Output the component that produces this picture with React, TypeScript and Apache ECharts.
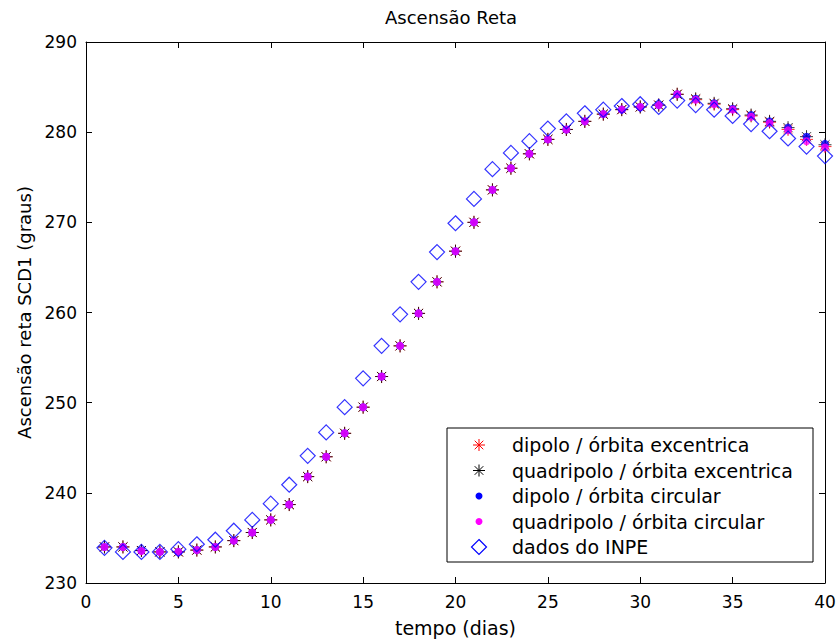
import React, { useEffect, useRef } from "react";
import * as echarts from "echarts";

const dias = [1,2,3,4,5,6,7,8,9,10,11,12,13,14,15,16,17,18,19,20,21,22,23,24,25,26,27,28,29,30,31,32,33,34,35,36,37,38,39,40];

const dipoloExcentrica = [234.0,234.0,233.6,233.45,233.45,233.65,234.0,234.7,235.6,237.0,238.7,241.8,244.0,246.6,249.5,252.9,256.3,259.9,263.4,266.8,270.0,273.6,276.0,277.6,279.2,280.3,281.2,282.0,282.5,282.8,283.0,284.2,283.6,283.1,282.5,281.8,281.1,280.3,279.2,278.4];
const quadripoloExcentrica = [234.0,234.0,233.6,233.45,233.45,233.65,234.0,234.7,235.6,237.0,238.7,241.8,244.0,246.6,249.5,252.9,256.3,259.9,263.4,266.8,270.0,273.6,276.0,277.6,279.2,280.3,281.2,282.0,282.5,282.8,283.0,284.2,283.7,283.2,282.6,281.9,281.2,280.5,279.5,278.6];
const dipoloCircular = [234.0,234.0,233.6,233.45,233.45,233.65,234.0,234.7,235.6,237.0,238.7,241.8,244.0,246.6,249.5,252.9,256.3,259.9,263.4,266.8,270.0,273.6,276.0,277.6,279.2,280.3,281.2,282.0,282.5,282.8,283.0,284.2,283.7,283.2,282.6,281.9,281.2,280.5,279.5,278.7];
const quadripoloCircular = [234.0,234.0,233.55,233.45,233.45,233.65,234.0,234.7,235.6,237.0,238.7,241.8,244.0,246.6,249.5,252.9,256.3,259.9,263.4,266.8,270.0,273.6,276.0,277.6,279.2,280.3,281.2,282.0,282.5,282.8,283.0,284.2,283.6,283.1,282.5,281.7,281.0,280.2,279.0,278.3];
const dadosINPE = [233.9,233.45,233.45,233.45,233.75,234.3,234.8,235.8,237.0,238.8,240.9,244.1,246.7,249.5,252.7,256.3,259.8,263.4,266.7,269.9,272.6,275.9,277.7,279.0,280.4,281.2,282.1,282.5,282.9,283.1,282.8,283.5,283.0,282.5,281.8,280.9,280.1,279.3,278.4,277.35];

const legendLabels = [
  "dipolo / órbita excentrica",
  "quadripolo / órbita excentrica",
  "dipolo / órbita circular",
  "quadripolo / órbita circular",
  "dados do INPE",
];

const xTicks = { min: 0, max: 40, interval: 5 };
const yTicks = { min: 230, max: 290, interval: 10 };

const FONT = '"DejaVu Sans", sans-serif';
const ASTERISK = "path://M5,0L5,10M0,5L10,5M1.5,1.5L8.5,8.5M1.5,8.5L8.5,1.5";

function pairs(vals: number[]) {
  return dias.map((d, i) => [d, vals[i]]);
}

function asteriskGroup(cx: number, cy: number, color: string) {
  const r = 6;
  const d = 4.3;
  const lines = [
    [cx, cy - r, cx, cy + r],
    [cx - r, cy, cx + r, cy],
    [cx - d, cy - d, cx + d, cy + d],
    [cx - d, cy + d, cx + d, cy - d],
  ];
  return lines.map((l) => ({
    type: "line",
    z: 100,
    shape: { x1: l[0], y1: l[1], x2: l[2], y2: l[3] },
    style: { stroke: color, lineWidth: 1 },
  }));
}

export default function App() {
  const ref = useRef<HTMLDivElement>(null);
  useEffect(() => {
    document.body.style.margin = "0";
    if (!ref.current) return;
    const chart = echarts.init(ref.current, undefined, { renderer: "svg" });

    const axisLineStyle = { color: "#000", width: 1 };
    const legendLeft = 447, legendTop = 428, legendW = 366, legendH = 134;
    const rowY = [445, 470.5, 496, 521.5, 547];
    const iconX = 479;
    const textX = 512;

    const graphics: any[] = [
      {
        type: "rect",
        z: 99,
        shape: { x: legendLeft, y: legendTop, width: legendW, height: legendH },
        style: { fill: "#fff", stroke: "#000", lineWidth: 1 },
      },
      ...asteriskGroup(iconX, rowY[0], "#ff0000"),
      ...asteriskGroup(iconX, rowY[1], "#000000"),
      { type: "circle", z: 100, shape: { cx: iconX, cy: rowY[2], r: 3.5 }, style: { fill: "#0000ff" } },
      { type: "circle", z: 100, shape: { cx: iconX, cy: rowY[3], r: 3.5 }, style: { fill: "#ff00ff" } },
      {
        type: "polygon",
        z: 100,
        shape: { points: [[iconX, rowY[4] - 7.5], [iconX + 7.5, rowY[4]], [iconX, rowY[4] + 7.5], [iconX - 7.5, rowY[4]]] },
        style: { fill: "none", stroke: "#0000ff", lineWidth: 1.2 },
      },
      ...legendLabels.map((t, i) => ({
        type: "text",
        z: 100,
        style: {
          text: t,
          x: textX,
          y: rowY[i],
          fontSize: 19,
          fontFamily: FONT,
          fill: "#000",
          align: "left",
          verticalAlign: "middle",
        },
      })),
    ];

    chart.setOption({
      animation: false,
      backgroundColor: "#fff",
      title: {
        text: "Ascensão Reta",
        left: 380,
        top: 3,
        textStyle: { fontSize: 18, fontWeight: "normal", fontFamily: FONT, color: "#000" },
      },
      grid: { left: 86, right: 15, top: 42, bottom: 61, containLabel: false },
      xAxis: [
        {
          type: "value",
          min: xTicks.min,
          max: xTicks.max,
          interval: xTicks.interval,
          position: "bottom",
          name: "tempo (dias)",
          nameLocation: "middle",
          nameGap: 35,
          nameTextStyle: { fontSize: 19, fontFamily: FONT, color: "#000" },
          axisLine: { show: true, onZero: false, lineStyle: axisLineStyle },
          axisTick: { show: true, inside: true, length: 6, lineStyle: axisLineStyle },
          axisLabel: { fontSize: 17, fontFamily: FONT, color: "#000", margin: 10 },
          splitLine: { show: false },
        },
        {
          type: "value",
          min: xTicks.min,
          max: xTicks.max,
          interval: xTicks.interval,
          position: "top",
          axisLine: { show: true, onZero: false, lineStyle: axisLineStyle },
          axisTick: { show: true, inside: true, length: 6, lineStyle: axisLineStyle },
          axisLabel: { show: false },
          splitLine: { show: false },
        },
      ],
      yAxis: [
        {
          type: "value",
          min: yTicks.min,
          max: yTicks.max,
          interval: yTicks.interval,
          position: "left",
          name: "Ascensão reta SCD1 (graus)",
          nameLocation: "middle",
          nameGap: 47,
          nameTextStyle: { fontSize: 18, fontFamily: FONT, color: "#000" },
          axisLine: { show: true, onZero: false, lineStyle: axisLineStyle },
          axisTick: { show: true, inside: true, length: 6, lineStyle: axisLineStyle },
          axisLabel: { fontSize: 17, fontFamily: FONT, color: "#000", margin: 9 },
          splitLine: { show: false },
        },
        {
          type: "value",
          min: yTicks.min,
          max: yTicks.max,
          interval: yTicks.interval,
          position: "right",
          axisLine: { show: true, onZero: false, lineStyle: axisLineStyle },
          axisTick: { show: true, inside: true, length: 6, lineStyle: axisLineStyle },
          axisLabel: { show: false },
          splitLine: { show: false },
        },
      ],
      series: [
        {
          name: legendLabels[0],
          type: "scatter",
          symbol: ASTERISK,
          symbolSize: 13,
          itemStyle: { color: "rgba(0,0,0,0)", borderColor: "#ff0000", borderWidth: 1 },
          data: pairs(dipoloExcentrica),
        },
        {
          name: legendLabels[1],
          type: "scatter",
          symbol: ASTERISK,
          symbolSize: 13,
          itemStyle: { color: "rgba(0,0,0,0)", borderColor: "#000000", borderWidth: 1 },
          data: pairs(quadripoloExcentrica),
        },
        {
          name: legendLabels[2],
          type: "scatter",
          symbol: "circle",
          symbolSize: 8,
          itemStyle: { color: "#0000ff" },
          data: pairs(dipoloCircular),
        },
        {
          name: legendLabels[3],
          type: "scatter",
          symbol: "circle",
          symbolSize: 8,
          itemStyle: { color: "#ff00ff" },
          data: pairs(quadripoloCircular),
        },
        {
          name: legendLabels[4],
          type: "scatter",
          symbol: "diamond",
          symbolSize: 15,
          itemStyle: { color: "rgba(0,0,0,0)", borderColor: "#0000ff", borderWidth: 1.2 },
          data: pairs(dadosINPE),
        },
      ],
      graphic: graphics,
    });
    return () => chart.dispose();
  }, []);
  return <div ref={ref} style={{ width: 840, height: 644 }} />;
}
